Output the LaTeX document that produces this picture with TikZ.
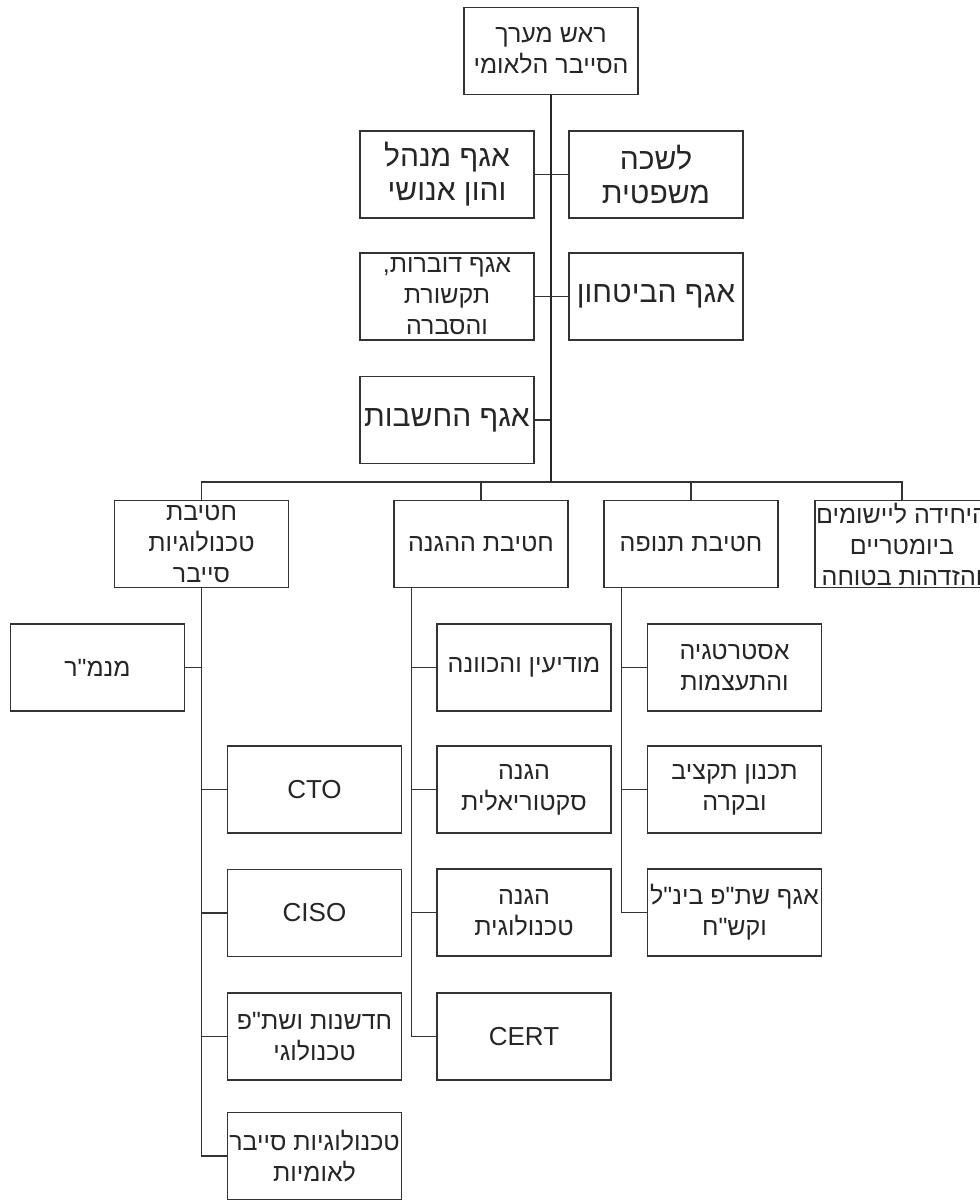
\documentclass[tikz,border=0pt]{standalone}
\usepackage{fontspec}
\setmainfont{Liberation Sans}
\newfontfamily\hebfont[Script=Hebrew]{Liberation Sans}
\TeXXeTstate=1
\usetikzlibrary{calc}
\newcommand{\heb}[1]{\beginR #1\endR}
\begin{document}
\begin{tikzpicture}[x=1pt,y=-1pt,
  box/.style={draw=black!80, line width=1.4pt, minimum width=174pt, minimum height=87pt,
    inner sep=0pt, align=center, text=black!85, font=\hebfont\fontsize{25}{31}\selectfont},
  big/.style={font=\hebfont\fontsize{30}{34}\selectfont},
  lat/.style={font=\fontsize{26}{30}\selectfont},
  link/.style={draw=black!80, line width=1.4pt},
  trunk/.style={draw=black!85, line width=2.8pt}]
\path[use as bounding box, fill=white] (0,0) rectangle (980,1200);

% top
\node[box] (top) at (551,51) {\heb{ראש מערך}\\\heb{הסייבר הלאומי}};
% staff
\node[box,big] (adm) at (447,174.5) {\heb{אגף מנהל}\\\heb{והון אנושי}};
\node[box,big] (law) at (656,174.5) {\heb{לשכה}\\\heb{משפטית}};
\node[box] (spk) at (447,296.5) {\heb{אגף דוברות,}\\\heb{תקשורת}\\\heb{והסברה}};
\node[box,big] (sec) at (656,296.5) {\heb{אגף הביטחון}};
\node[box,big] (acc) at (447,420) {\heb{אגף החשבות}};
% level 2
\node[box] (tech) at (201.5,544) {\heb{חטיבת}\\\heb{טכנולוגיות}\\\heb{סייבר}};
\node[box] (def) at (481,544) {\heb{חטיבת ההגנה}};
\node[box] (tnu) at (691,544) {\heb{חטיבת תנופה}};
\node[box] (bio) at (902,544) {\heb{היחידה ליישומים}\\\heb{ביומטריים}\\\heb{והזדהות בטוחה}};
% tech children
\node[box] (mnmr) at (97.5,667.5) {\heb{מנמ"ר}};
\node[box,lat] (cto) at (314.5,789.5) {CTO};
\node[box,lat] (ciso) at (314.5,913) {CISO};
\node[box] (inno) at (314.5,1036.5) {\heb{חדשנות ושת"פ}\\\heb{טכנולוגי}};
\node[box] (natl) at (314.5,1156) {\heb{טכנולוגיות סייבר}\\\heb{לאומיות}};
% defense children
\node[box] (intel) at (524,667.5) {\heb{מודיעין והכוונה}};
\node[box] (sect) at (524,789.5) {\heb{הגנה}\\\heb{סקטוריאלית}};
\node[box] (tdef) at (524,912.5) {\heb{הגנה}\\\heb{טכנולוגית}};
\node[box,lat] (cert) at (524,1036.5) {CERT};
% tnufa children
\node[box] (strat) at (734.5,667.5) {\heb{אסטרטגיה}\\\heb{והתעצמות}};
\node[box] (budg) at (734.5,789.5) {\heb{תכנון תקציב}\\\heb{ובקרה}};
\node[box] (intl) at (734.5,912.5) {\heb{אגף שת"פ בינ"ל}\\\heb{וקש"ח}};

% bus and trunk
\coordinate (bus) at (551,482);
\coordinate (dv) at ($(def.south west)+(18,0)$);
\coordinate (tv) at ($(tnu.south west)+(18,0)$);

\draw[link] (adm.east) -- (law.west);
\draw[link] (spk.east) -- (sec.west);
\draw[link] (acc.east) -- (acc.east -| bus);
\draw[link] (tech.north) -- (tech.north |- bus) -- (bio.north |- bus) -- (bio.north);
\draw[link] (def.north |- bus) -- (def.north);
\draw[link] (tnu.north |- bus) -- (tnu.north);
\draw[trunk] (top.south) -- (bus);

% tech branch
\draw[link] (tech.south) |- (natl.west);
\draw[link] (tech.south |- mnmr.east) -- (mnmr.east);
\draw[link] (tech.south |- cto.west) -- (cto.west);
\draw[link] (tech.south |- ciso.west) -- (ciso.west);
\draw[link] (tech.south |- inno.west) -- (inno.west);
% defense branch
\draw[link] (dv) |- (cert.west);
\draw[link] (dv |- intel.west) -- (intel.west);
\draw[link] (dv |- sect.west) -- (sect.west);
\draw[link] (dv |- tdef.west) -- (tdef.west);
% tnufa branch
\draw[link] (tv) |- (intl.west);
\draw[link] (tv |- strat.west) -- (strat.west);
\draw[link] (tv |- budg.west) -- (budg.west);
\end{tikzpicture}
\end{document}
